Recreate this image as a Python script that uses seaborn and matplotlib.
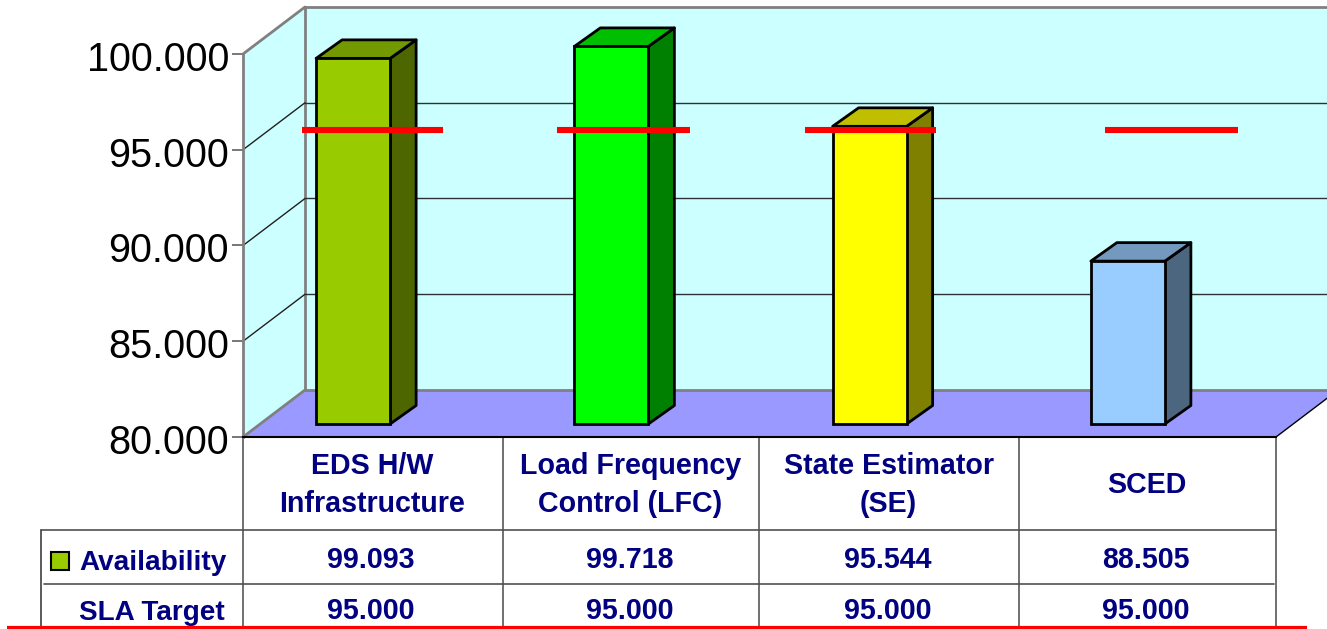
import matplotlib
matplotlib.use('Agg')
import matplotlib.pyplot as plt
import matplotlib.transforms as mtrans
from matplotlib.patches import Polygon, Rectangle
import pandas as pd
import seaborn as sns

# values
categories = ['EDS H/W\nInfrastructure', 'Load Frequency\nControl (LFC)', 'State Estimator\n(SE)', 'SCED']
availability = [99.093, 99.718, 95.544, 88.505]
sla_target = [95.000, 95.000, 95.000, 95.000]
y_ticks = [80, 85, 90, 95, 100]
row_names = ['Availability', 'SLA Target']

front_colors = ['#99CC00', '#00FF00', '#FFFF00', '#99CCFF']
top_colors = ['#739900', '#00BF00', '#BFBF00', '#7399BF']
side_colors = ['#4D6600', '#008000', '#808000', '#4D6680']
navy = '#000080'

W, H = 1327, 629

sns.set_style('white')
plt.rcParams['font.family'] = ['Liberation Sans', 'DejaVu Sans']

fig = plt.figure(figsize=(W / 100, H / 100), dpi=100)
ax = fig.add_axes([243 / W, (H - 437) / H, 1033 / W, 383 / H])
ax.set_facecolor('none')

# image pixel coords, y going down
px = mtrans.Affine2D().scale(1, -1).translate(0, H)
x_data_y_px = mtrans.blended_transform_factory(ax.transData, px)

df = pd.DataFrame({'category': categories, 'availability': availability})
sns.barplot(data=df, x='category', y='availability', hue='category', palette=front_colors,
            width=74 / 258.25, saturation=1, legend=False, ax=ax, zorder=4,
            edgecolor='black', linewidth=2)

ax.set_xlim(-0.5, 3.5)
ax.set_ylim(80, 100)
ax.set_xticks([])
ax.set_xlabel('')
ax.set_ylabel('')
ax.set_yticks(y_ticks)
ax.set_yticklabels([f'{v:.3f}' for v in y_ticks], fontsize=28.5, color='black')
ax.tick_params(axis='y', left=True, length=8, width=1.2, color='#606060', pad=2)
for lab in ax.get_yticklabels():
    lab.set_verticalalignment('center')
    lab.set_transform(lab.get_transform() + mtrans.Affine2D().translate(0, -6))

for name in ['top', 'right']:
    ax.spines[name].set_visible(False)
ax.spines['left'].set_color('#808080')
ax.spines['left'].set_linewidth(2)
ax.spines['bottom'].set_color('black')
ax.spines['bottom'].set_linewidth(1.5)

# walls and floor
walls = [
    ([(243, 437), (305, 390), (305, 7), (243, 54)], '#CCFFFF'),
    ([(305, 390), (1340, 390), (1340, 7), (305, 7)], '#CCFFFF'),
    ([(243, 437), (1276, 437), (1338, 390), (305, 390)], '#9999FF'),
]
for pts, col in walls:
    ax.add_patch(Polygon(pts, closed=True, facecolor=col, edgecolor='none', transform=px,
                         clip_on=False, zorder=0))
for xs, ys in [([305, 305], [7, 390]), ([305, 1340], [7, 7]), ([305, 1340], [390, 390]),
               ([243, 305], [54, 7]), ([243, 305], [437, 390])]:
    ax.plot(xs, ys, color='#808080', lw=2, transform=px, clip_on=False, zorder=1)
ax.plot([1276, 1338], [437, 390], color='black', lw=1, transform=px, clip_on=False, zorder=1)

# gridlines run across the left wall then the back wall
back = ax.transData + mtrans.Affine2D().translate(62, 47)
for v in y_ticks[1:-1]:
    ax.plot([-0.5, 3.7], [v, v], color='#303030', lw=1, transform=back, clip_on=False, zorder=1)
    x0, y0 = ax.transData.transform((-0.5, v))
    ax.plot([x0, x0 + 62], [y0, y0 + 47], color='#202020', lw=1,
            transform=mtrans.IdentityTransform(), clip_on=False, zorder=1)

# bars sit a bit forward of the back wall, extruded by hand for the 3D look
shift = ax.transData + mtrans.Affine2D().translate(-19, 13)
dx, dy = 26, 18.5
for i, bar in enumerate(ax.patches[:len(categories)]):
    top = bar.get_height()
    x0, x1 = bar.get_x(), bar.get_x() + bar.get_width()
    bar.set_y(80)
    bar.set_height(top - 80)
    bar.set_transform(shift)
    bar.set_clip_on(False)
    (ax_l, ay_t), (ax_r, ay_b) = shift.transform([(x0, top), (x1, 80)])
    side = [(ax_r, ay_b), (ax_r + dx, ay_b + dy), (ax_r + dx, ay_t + dy), (ax_r, ay_t)]
    roof = [(ax_l, ay_t), (ax_r, ay_t), (ax_r + dx, ay_t + dy), (ax_l + dx, ay_t + dy)]
    for pts, col in [(side, side_colors[i]), (roof, top_colors[i])]:
        ax.add_patch(Polygon(pts, closed=True, facecolor=col, edgecolor='black', lw=2,
                             joinstyle='round', transform=mtrans.IdentityTransform(),
                             clip_on=False, zorder=3.5))

# hand drawn target marks, they float behind the floor front edge
line_spans = [(302, 443), (557, 690), (805, 936), (1105, 1238)]
for (l, r), t in zip(line_spans, sla_target):
    ax.plot([l, r], [129.5, 129.5], color='#FF0000', lw=4.4, solid_capstyle='butt',
            transform=px, clip_on=False, zorder=6)

# data table
for x in [243, 503, 759, 1019, 1276]:
    ax.plot([x, x], [437, 626], color='#707070', lw=1.4, transform=px, clip_on=False, zorder=2)
ax.plot([41, 41], [530, 626], color='#404040', lw=1.2, transform=px, clip_on=False, zorder=2)
ax.plot([41, 1276], [530, 530], color='#505050', lw=1.2, transform=px, clip_on=False, zorder=2)
ax.plot([44, 1274], [584, 584], color='#505050', lw=1.2, transform=px, clip_on=False, zorder=2)

txt = dict(color=navy, fontsize=20.6, fontweight='bold', ha='center', va='center',
           transform=x_data_y_px, clip_on=False)
for i, cat in enumerate(categories):
    ax.text(i, 485, cat, linespacing=1.5, **txt)
    ax.text(i - 0.004, 560, f'{availability[i]:.3f}', **txt)
    ax.text(i - 0.004, 611, f'{sla_target[i]:.3f}', **txt)

row_txt = dict(txt, ha='left', fontsize=20.1)
ax.text(79, 563, row_names[0], **dict(row_txt, transform=px))
ax.text(79, 613, row_names[1], **dict(row_txt, transform=px))
ax.add_patch(Rectangle((51, 552), 18, 18, facecolor=front_colors[0], edgecolor='black', lw=1.5,
                       transform=px, clip_on=False, zorder=3))

ax.plot([7, 1307], [627.5, 627.5], color='#FF0000', lw=3, solid_capstyle='butt',
        transform=px, clip_on=False, zorder=7)

fig.savefig('out.png', dpi=100)
